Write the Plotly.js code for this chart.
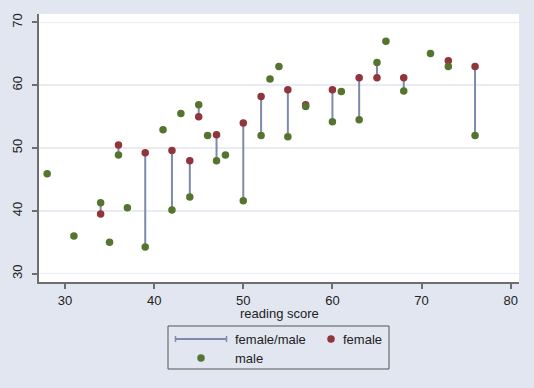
<!DOCTYPE html>
<html>
<head>
<meta charset="utf-8">
<script src="https://cdn.plot.ly/plotly-3.0.1.min.js"></script>
<style>html,body{margin:0;padding:0;background:#e1e6f0;}#chart{width:534px;height:388px;}</style>
</head>
<body>
<div id="chart"></div>
<script>
// reading score
var readScore = [28,31,34,35,36,37,39,41,42,43,44,45,46,47,48,50,52,53,54,55,57,60,61,63,65,66,68,71,73,76];
// male values
var maleVals = [45.9,36.0,41.3,35.0,48.9,40.5,34.25,52.9,40.15,55.5,42.2,56.9,52.0,48.0,48.9,41.6,52.0,61.0,63.0,51.8,56.6,54.2,59.0,54.5,63.6,67.0,59.1,65.05,63.0,52.0];
// female values (null = missing)
var femaleVals = [null,null,39.5,null,50.5,null,49.25,null,49.6,null,48.0,55.0,null,52.1,null,54.0,58.2,null,null,59.3,56.9,59.3,null,61.2,61.2,null,61.2,null,63.9,63.0];
var xTicks = [30,40,50,60,70,80];
var yTicks = [30,40,50,60,70];

var W = 534, H = 388;
var L = 39, R = 15, T = 14, B = 106;
var pw = W - L - R, ph = H - T - B;
function px(x){ return (x - L) / pw; }
function py(y){ return (H - B - y) / ph; }

// range segments female/male
var segX = [], segY = [];
for (var i = 0; i < readScore.length; i++) {
  if (femaleVals[i] !== null && maleVals[i] !== null) {
    segX.push(readScore[i], readScore[i], null);
    segY.push(femaleVals[i], maleVals[i], null);
  }
}

var lineCol = '#7d8aab', redCol = '#90353b', greenCol = '#55752f';

var traces = [
  {x: segX, y: segY, type: 'scatter', mode: 'lines', name: 'female/male',
   line: {color: lineCol, width: 2}, connectgaps: false, hoverinfo: 'skip'},
  {x: readScore, y: femaleVals, type: 'scatter', mode: 'markers', name: 'female',
   marker: {color: redCol, size: 7.5, line: {width: 0}}},
  {x: readScore, y: maleVals, type: 'scatter', mode: 'markers', name: 'male',
   marker: {color: greenCol, size: 7.5, line: {width: 0}}}
];

var fnt = {family: 'Liberation Sans, Arial, sans-serif', size: 13, color: '#222'};

var shapes = [
  // legend box
  {type: 'rect', xref: 'paper', yref: 'paper', x0: px(168), x1: px(389), y0: py(369), y1: py(326),
   line: {color: '#555', width: 1}, fillcolor: 'rgba(0,0,0,0)'},
  // legend range line with caps
  {type: 'line', xref: 'paper', yref: 'paper', x0: px(175), x1: px(227), y0: py(339), y1: py(339),
   line: {color: lineCol, width: 2}},
  {type: 'line', xref: 'paper', yref: 'paper', x0: px(175.5), x1: px(175.5), y0: py(336), y1: py(342),
   line: {color: lineCol, width: 1.5}},
  {type: 'line', xref: 'paper', yref: 'paper', x0: px(226.5), x1: px(226.5), y0: py(336), y1: py(342),
   line: {color: lineCol, width: 1.5}},
  // legend markers
  {type: 'circle', xref: 'paper', yref: 'paper', xsizemode: 'pixel', ysizemode: 'pixel',
   xanchor: px(331), yanchor: py(339), x0: -3.75, x1: 3.75, y0: -3.75, y1: 3.75,
   fillcolor: redCol, line: {width: 0}},
  {type: 'circle', xref: 'paper', yref: 'paper', xsizemode: 'pixel', ysizemode: 'pixel',
   xanchor: px(201), yanchor: py(358), x0: -3.75, x1: 3.75, y0: -3.75, y1: 3.75,
   fillcolor: greenCol, line: {width: 0}}
];

var annotations = [
  {text: 'reading score', xref: 'paper', yref: 'paper', x: 0.5, y: py(313), xanchor: 'center', yanchor: 'middle', showarrow: false, font: fnt},
  {text: 'female/male', xref: 'paper', yref: 'paper', x: px(233), y: py(339), xanchor: 'left', yanchor: 'middle', showarrow: false, font: fnt},
  {text: 'female', xref: 'paper', yref: 'paper', x: px(341), y: py(339), xanchor: 'left', yanchor: 'middle', showarrow: false, font: fnt},
  {text: 'male', xref: 'paper', yref: 'paper', x: px(233), y: py(358), xanchor: 'left', yanchor: 'middle', showarrow: false, font: fnt}
];

var layout = {
  width: W, height: H,
  margin: {l: L, r: R, t: T, b: B, pad: 0},
  paper_bgcolor: '#e1e6f0',
  plot_bgcolor: '#ffffff',
  showlegend: false,
  font: fnt,
  xaxis: {
    range: [27.085, 80.93], tickvals: xTicks, ticktext: xTicks.map(String),
    showgrid: false, zeroline: false,
    showline: true, linecolor: '#6e6e6e', linewidth: 2,
    ticks: 'outside', ticklen: 5, tickwidth: 2, tickcolor: '#6e6e6e',
    tickfont: fnt
  },
  yaxis: {
    range: [28.68, 71.34], tickvals: yTicks, ticktext: yTicks.map(String),
    showgrid: true, gridcolor: '#e9edf3', gridwidth: 1.5, zeroline: false,
    showline: true, linecolor: '#6e6e6e', linewidth: 2,
    ticks: 'outside', ticklen: 5, tickwidth: 2, tickcolor: '#6e6e6e',
    tickangle: -90, tickfont: fnt, ticklabelstandoff: 5
  },
  shapes: shapes,
  annotations: annotations
};

Plotly.newPlot('chart', traces, layout, {displayModeBar: false, staticPlot: true});
</script>
</body>
</html>
